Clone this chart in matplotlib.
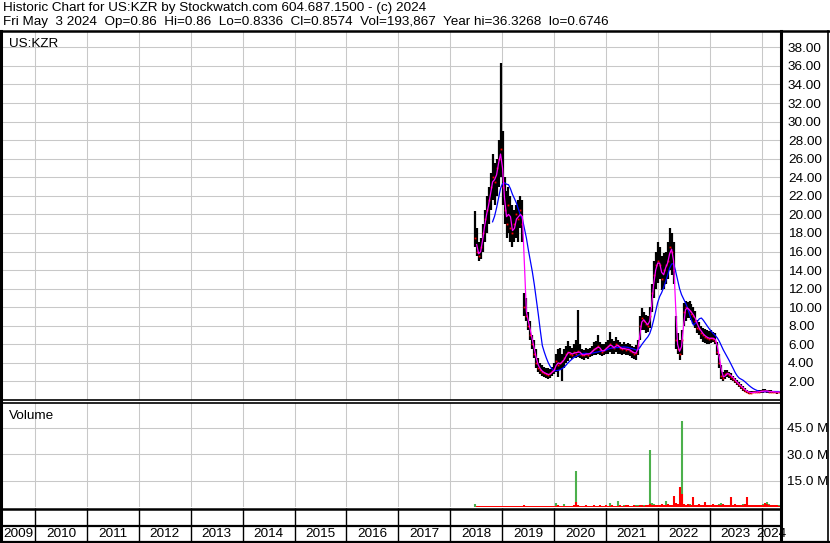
import numpy as np
import pandas as pd
import matplotlib
matplotlib.use("Agg")
import matplotlib.pyplot as plt
from matplotlib.lines import Line2D

plt.rcParams['font.family'] = ['Liberation Sans', 'DejaVu Sans']

# biweekly bars, last bar = Fri May 3 2024
hi = [20.4, 18.5, 17.0, 17.5, 19.0, 20.5, 22.0, 23.0, 24.5, 26.5,
      25.5, 26.0, 28.0, 36.3, 29.0, 24.0, 22.5, 23.0, 22.0, 21.0,
      20.5, 21.0, 21.5, 22.0, 21.5, 11.5, 11.0, 9.5, 8.5, 7.0,
      6.5, 5.5, 4.5, 4.0, 3.8, 3.6, 3.5, 3.4, 3.3, 3.6,
      4.0, 5.0, 5.5, 5.6, 5.0, 5.5, 5.8, 6.4, 5.8, 5.6,
      6.0, 6.5, 9.7, 6.0, 5.5, 5.4, 5.6, 5.5, 5.6, 5.8,
      6.2, 6.4, 7.0, 6.2, 6.0, 6.0, 6.2, 6.5, 7.3, 6.6,
      6.4, 6.8, 6.5, 6.2, 6.0, 6.2, 6.0, 6.1, 6.0, 5.8,
      5.7, 5.9, 6.5, 9.0, 9.9, 9.5, 9.2, 9.0, 10.0, 12.5,
      15.0, 16.0, 17.0, 16.5, 15.5, 15.8, 16.0, 17.0, 18.5, 18.0,
      17.0, 9.0, 7.2, 6.5, 7.5, 10.5, 10.7, 10.6, 10.7, 10.3,
      10.0, 9.6, 8.6, 8.4, 8.0, 7.8, 7.6, 7.5, 7.4, 7.5,
      7.3, 7.2, 6.3, 5.0, 3.8, 3.0, 3.2, 3.2, 3.0, 2.9,
      2.6, 2.4, 2.2, 1.9, 1.7, 1.5, 1.3, 1.1, 1.0, 0.95,
      0.95, 1.0, 1.0, 1.05, 1.1, 1.15, 1.2, 1.1, 1.05, 1.05,
      1.0, 0.95, 0.95, 0.86]
lo = [16.5, 15.5, 15.0, 15.2, 16.0, 17.0, 18.0, 19.0, 20.5, 21.5,
      21.0, 22.0, 23.0, 24.0, 21.0, 19.0, 17.5, 18.0, 17.0, 16.5,
      17.0, 17.5, 17.0, 18.5, 17.0, 9.0, 8.5, 7.5, 6.5, 5.5,
      4.5, 3.5, 3.0, 2.8, 2.6, 2.5, 2.4, 2.3, 2.4, 2.6,
      2.8, 3.0, 2.5, 3.2, 2.1, 3.5, 4.0, 4.2, 4.5, 4.4,
      4.6, 4.5, 4.6, 4.5, 4.4, 4.3, 4.5, 4.4, 4.6, 4.7,
      4.8, 4.9, 5.0, 4.8, 4.7, 4.8, 5.0, 5.0, 5.2, 5.0,
      5.0, 5.2, 5.0, 5.0, 4.9, 5.0, 4.8, 4.8, 4.7, 4.5,
      4.4, 4.3, 4.8, 6.5, 7.5, 7.5, 7.2, 7.3, 7.8, 9.5,
      11.0, 12.0, 12.6, 13.0, 11.8, 12.0, 12.5, 13.0, 14.0, 13.5,
      12.5, 5.5, 5.0, 4.3, 4.8, 8.0, 8.5, 8.8, 8.8, 8.6,
      8.2, 7.8, 7.2, 7.0, 6.6, 6.2, 6.1, 6.0, 6.0, 6.1,
      6.2, 6.0, 4.8, 3.5, 2.3, 2.1, 2.3, 2.5, 2.4, 2.2,
      2.0, 1.8, 1.6, 1.4, 1.2, 1.0, 0.85, 0.75, 0.7, 0.7,
      0.72, 0.75, 0.75, 0.78, 0.8, 0.8, 0.85, 0.8, 0.8, 0.78,
      0.75, 0.72, 0.7, 0.83]
cl = [17.5, 16.0, 15.5, 16.5, 18.0, 19.5, 20.5, 21.5, 23.0, 24.0,
      23.5, 25.0, 26.0, 27.0, 23.0, 20.5, 19.0, 21.0, 18.5, 18.0,
      19.0, 20.0, 19.5, 20.5, 19.0, 10.0, 9.0, 8.0, 7.0, 6.0,
      5.0, 4.0, 3.5, 3.2, 3.0, 2.9, 2.8, 2.7, 2.9, 3.1,
      3.3, 4.2, 3.8, 4.0, 4.2, 4.5, 5.0, 5.2, 5.0, 4.9,
      5.2, 5.0, 5.3, 5.0, 4.8, 4.9, 5.0, 4.9, 5.1, 5.3,
      5.5, 5.6, 5.8, 5.4, 5.2, 5.4, 5.6, 5.8, 6.0, 5.7,
      5.6, 6.0, 5.8, 5.6, 5.5, 5.6, 5.4, 5.5, 5.3, 5.2,
      5.0, 5.1, 5.8, 8.0, 8.8, 8.5, 8.2, 8.0, 9.0, 11.5,
      13.5, 14.5, 15.0, 14.5, 13.0, 14.0, 14.5, 15.0, 16.5, 16.0,
      14.0, 6.5, 5.5, 5.0, 6.5, 9.5, 10.0, 9.8, 9.6, 9.3,
      9.0, 8.5, 7.8, 7.6, 7.2, 7.0, 6.8, 6.7, 6.6, 6.7,
      6.6, 6.4, 5.2, 4.0, 2.6, 2.4, 2.8, 2.9, 2.7, 2.5,
      2.3, 2.0, 1.8, 1.6, 1.4, 1.2, 1.0, 0.9, 0.8, 0.8,
      0.82, 0.85, 0.88, 0.9, 0.95, 0.95, 1.0, 0.95, 0.9, 0.9,
      0.88, 0.85, 0.86, 0.857]

# volume in millions, up days (green) and down days (red)
vol_up = [1.8, 0.3, 0.4, 0.3, 0.5, 0.4, 0.3, 0.4, 0.5, 0.3,
          0.4, 0.3, 0.5, 0.6, 0.4, 0.3, 0.4, 0.5, 0.3, 0.4,
          0.3, 0.4, 0.3, 0.5, 0.4, 0.6, 0.5, 0.4, 0.3, 0.4,
          0.5, 0.4, 0.6, 0.4, 0.5, 0.4, 0.6, 0.5, 0.4, 0.5,
          0.6, 2.3, 0.8, 0.5, 0.6, 1.5, 0.6, 0.5, 0.7, 0.6,
          0.8, 20.5, 0.9, 0.7, 0.6, 0.5, 0.7, 0.6, 0.8, 0.7,
          0.6, 0.7, 0.8, 0.6, 0.7, 0.6, 0.5, 0.7, 2.5, 0.8,
          0.7, 0.6, 3.5, 0.8, 0.7, 0.9, 0.6, 0.7, 0.8, 0.6,
          0.7, 0.9, 1.0, 1.2, 0.9, 1.0, 1.1, 1.3, 32.5, 2.0,
          1.5, 1.0, 1.2, 0.9, 1.1, 1.4, 3.5, 1.2, 1.0, 1.3,
          1.1, 1.5, 1.2, 1.4, 49.0, 1.8, 1.3, 1.2, 1.5, 1.1,
          1.0, 1.2, 1.4, 1.1, 1.3, 1.0, 1.2, 1.1, 1.4, 1.0,
          1.2, 1.3, 1.1, 1.5, 2.3, 1.2, 1.0, 1.1, 1.3, 3.6,
          1.4, 1.2, 1.0, 1.1, 1.3, 1.5, 1.2, 1.1, 1.0, 1.2,
          1.0, 1.1, 0.9, 1.2, 1.0, 1.5, 1.3, 2.8, 1.6, 1.2,
          1.4, 1.0, 1.1, 0.9]
vol_dn = [0.0, 0.5, 0.6, 0.5, 0.4, 0.6, 0.5, 0.6, 0.4, 0.7,
          0.5, 0.6, 0.4, 0.7, 0.6, 0.5, 0.6, 0.4, 0.6, 0.5,
          0.6, 0.5, 0.7, 0.4, 0.6, 1.2, 0.7, 0.6, 0.7, 0.5,
          0.4, 0.6, 0.5, 0.7, 0.5, 0.6, 0.4, 0.7, 0.6, 0.5,
          0.7, 0.5, 0.9, 0.6, 0.8, 0.5, 0.6, 0.8, 0.6, 0.7,
          0.9, 3.0, 1.2, 0.8, 0.6, 0.7, 0.9, 0.6, 0.7, 0.8,
          0.9, 0.6, 0.7, 1.0, 0.8, 0.7, 0.9, 0.6, 0.8, 0.9,
          0.6, 0.8, 0.7, 0.9, 0.8, 0.6, 0.9, 1.0, 0.7, 0.8,
          0.9, 0.8, 0.7, 0.9, 1.0, 0.8, 1.2, 0.9, 1.5, 1.0,
          1.2, 1.4, 1.3, 1.1, 1.6, 1.2, 1.3, 1.5, 1.4, 1.2,
          6.0, 2.0, 1.6, 11.5, 7.5, 1.5, 1.2, 1.6, 1.4, 1.3,
          5.5, 1.4, 1.2, 1.5, 1.3, 1.2, 3.0, 1.4, 1.1, 1.3,
          1.5, 1.2, 1.4, 1.1, 1.3, 1.6, 1.2, 1.4, 1.2, 5.5,
          1.3, 1.5, 1.1, 1.3, 1.2, 1.4, 1.6, 5.5, 1.3, 1.2,
          1.1, 1.3, 1.2, 1.0, 1.4, 1.2, 2.0, 1.6, 1.3, 1.1,
          1.2, 1.4, 1.0, 0.8]

year_starts = list(range(2010, 2025))
year_labels = [str(y) for y in range(2009, 2025)]
price_ticks = list(range(2, 40, 2))
vol_ticks = [15, 30, 45]

header1 = "Historic Chart for US:KZR by Stockwatch.com 604.687.1500 - (c) 2024"
header2 = ("Fri May  3 2024  Op=0.86  Hi=0.86  Lo=0.8336  Cl=0.8574  "
           "Vol=193,867  Year hi=36.3268  lo=0.6746")

dates = pd.date_range(end="2024-05-03", periods=len(cl), freq="14D")
df = pd.DataFrame({"hi": hi, "lo": lo, "cl": cl, "up": vol_up, "dn": vol_dn}, index=dates)
ma_short = df["cl"].rolling(2).mean()
ma_long = df["cl"].rolling(10).mean()

W, H = 830, 543
fig = plt.figure(figsize=(W / 100, H / 100), dpi=100)

def rect(x0, y0, x1, y1):
    return [x0 / W, 1 - y1 / H, (x1 - x0) / W, (y1 - y0) / H]

xmin = pd.Timestamp("2009-05-13")
xmax = pd.Timestamp("2024-05-17")
jan1 = [pd.Timestamp(f"{y}-01-01") for y in year_starts]
grid_c = "#c8c8c8"

ax1 = fig.add_axes(rect(2, 32, 781, 400))
ax2 = fig.add_axes(rect(2, 403, 781, 507))
ax3 = fig.add_axes(rect(2, 508, 781, 526))
ax4 = fig.add_axes(rect(2, 526, 781, 541))

for ax in (ax1, ax2, ax3, ax4):
    ax.set_xlim(xmin, xmax)
    for s in ax.spines.values():
        s.set_visible(False)
    ax.set_xticks([])

# price panel
ax1.set_ylim(0, 39.65)
for d in jan1:
    ax1.axvline(d, color=grid_c, lw=0.75, zorder=0)
for v in price_ticks:
    ax1.axhline(v, color=grid_c, lw=0.75, zorder=0)
ax1.vlines(df.index, df["lo"], df["hi"], color="black", lw=1.6, zorder=2)
ax1.plot(df.index, df["cl"], ls="none", marker="s", ms=1.3, mew=0, color="red", zorder=3)
ax1.plot(df.index, ma_long, color="#0000ff", lw=0.9, zorder=4)
ax1.plot(df.index, ma_short, color="#ff00ff", lw=0.9, zorder=5)
ax1.yaxis.tick_right()
ax1.set_yticks(price_ticks)
ax1.set_yticklabels([f"{v:.2f}" for v in price_ticks])
ax1.tick_params(axis="y", length=0, pad=5, labelsize=9.7)
ax1.text(0.009, 0.984, "US:KZR", transform=ax1.transAxes, ha="left", va="top", fontsize=9.7)

# volume panel
ax2.set_ylim(0, 59.2)
for d in jan1:
    ax2.axvline(d, color=grid_c, lw=0.75, zorder=0)
for v in vol_ticks:
    ax2.axhline(v, color=grid_c, lw=0.75, zorder=0)
ax2.vlines(df.index, 0, df["up"], color="#4cb04c", lw=1.5, zorder=2)
ax2.vlines(df.index, 0, df["dn"], color="#ff0000", lw=1.5, zorder=3)
ax2.yaxis.tick_right()
ax2.set_yticks(vol_ticks)
ax2.set_yticklabels([f"{v:.1f} M" for v in vol_ticks])
ax2.tick_params(axis="y", length=0, pad=4, labelsize=9.7)
ax2.text(0.009, 0.93, "Volume", transform=ax2.transAxes, ha="left", va="top", fontsize=9.7)

# year strips
ax3.set_ylim(0, 1)
ax3.set_yticks([])
ax3.vlines(jan1, 0, 1, color="black", lw=1)
ax4.set_ylim(0, 1)
ax4.set_yticks([])
ax4.vlines(jan1, 0, 1, color="black", lw=1)
edges = [xmin] + jan1 + [xmax]
for i, lab in enumerate(year_labels):
    mid = edges[i] + (edges[i + 1] - edges[i]) / 2
    ax4.text(mid, 0.45, lab, ha="center", va="center", fontsize=9.7, clip_on=False)

# frame lines
def hline(y, x0, x1, lw):
    fig.add_artist(Line2D([x0 / W, x1 / W], [1 - y / H, 1 - y / H], color="black", lw=lw))

def vline(x, y0, y1, lw):
    fig.add_artist(Line2D([x / W, x / W], [1 - y0 / H, 1 - y1 / H], color="black", lw=lw))

hline(31, 0, 830, 1.8)
hline(400, 0, 781, 1.2)
hline(403, 0, 781, 1.2)
hline(508.5, 0, 781, 1.8)
hline(526, 0, 781, 1.6)
hline(541.5, 0, 829, 1.6)
vline(1, 31, 542, 2.2)
vline(781, 31, 542, 2.2)
vline(828, 31, 542, 1.2)

fig.text(3 / W, 1 - 8 / H, header1, ha="left", va="center", fontsize=9.7)
fig.text(3 / W, 1 - 22 / H, header2, ha="left", va="center", fontsize=9.7)

fig.savefig("out.png", dpi=100)
